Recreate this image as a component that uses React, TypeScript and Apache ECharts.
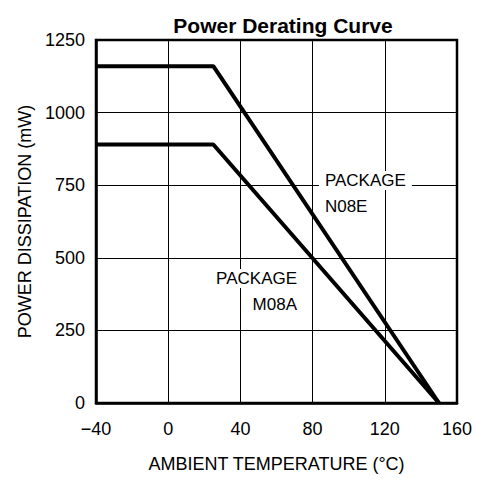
import React, { useEffect, useRef } from "react";
import * as echarts from "echarts";

const temperatures = [-40, 25, 150];
const powerN08E = [1160, 1160, 0];
const powerM08A = [890, 890, 0];
const xMin = -40;
const xMax = 160;
const xStep = 40;
const yMin = 0;
const yMax = 1250;
const yStep = 250;
const noteN08E = { x: 83.5, y: 721, title: "PACKAGE", name: "N08E" };
const noteM08A = { x: 74.7, y: 384, title: "PACKAGE", name: "M08A" };

const FONT = "Liberation Sans, Arial, sans-serif";

export default function App() {
  const ref = useRef<HTMLDivElement>(null);
  useEffect(() => {
    if (!ref.current) return;
    const chart = echarts.init(ref.current, null, { renderer: "svg" });
    const richLabel = (align: string) => ({
      a: { fontFamily: FONT, fontSize: 17, color: "#000", backgroundColor: "#fff", padding: [1, 6], lineHeight: 26, align },
      b: { fontFamily: FONT, fontSize: 17, color: "#000", padding: [1, 6], lineHeight: 26, align },
    });
    const noteSeries = (note: typeof noteN08E, side: "left" | "right") => {
      const align = side === "right" ? "left" : "right";
      return {
        type: "scatter",
        symbolSize: 0,
        data: [[note.x, note.y]],
        z: 4,
        silent: true,
        itemStyle: { opacity: 1, color: "#000" },
        label: {
          show: true,
          position: side,
          distance: 0,
          align,
          color: "#000",
          opacity: 1,
          formatter: `{a|${note.title}}\n{b|${note.name}}`,
          rich: richLabel(align),
        },
      };
    };
    chart.setOption({
      animation: false,
      backgroundColor: "#fff",
      title: {
        text: "Power Derating Curve",
        left: 278,
        textAlign: "center",
        top: 10,
        textStyle: { fontFamily: FONT, fontSize: 21, fontWeight: "bold", color: "#000" },
      },
      grid: {
        left: 96,
        right: 20,
        top: 40,
        bottom: 76,
        show: true,
        borderColor: "#000",
        borderWidth: 2.5,
        backgroundColor: "transparent",
      },
      xAxis: {
        type: "value",
        min: xMin,
        max: xMax,
        interval: xStep,
        name: "AMBIENT TEMPERATURE (°C)",
        nameLocation: "middle",
        nameGap: 52,
        nameTextStyle: { fontFamily: FONT, fontSize: 18, color: "#000" },
        axisLine: { show: true, onZero: false, lineStyle: { color: "#000", width: 2.5 } },
        axisTick: { show: false },
        axisLabel: {
          fontFamily: FONT,
          fontSize: 18,
          color: "#000",
          margin: 17,
          formatter: (v: number) => String(v).replace("-", "\u2212"),
        },
        splitLine: { show: true, lineStyle: { color: "#000", width: 1 } },
      },
      yAxis: {
        type: "value",
        min: yMin,
        max: yMax,
        interval: yStep,
        name: "POWER DISSIPATION (mW)",
        nameLocation: "middle",
        nameGap: 57,
        nameTextStyle: { fontFamily: FONT, fontSize: 18, color: "#000" },
        axisLine: { show: true, onZero: false, lineStyle: { color: "#000", width: 2.5 } },
        axisTick: { show: false },
        axisLabel: {
          fontFamily: FONT,
          fontSize: 18,
          color: "#000",
          margin: 11,
          formatter: (v: number) => String(v),
        },
        splitLine: { show: true, lineStyle: { color: "#000", width: 1 } },
      },
      series: [
        {
          type: "line",
          name: "N08E",
          data: temperatures.map((t, i) => [t, powerN08E[i]]),
          symbol: "none",
          lineStyle: { color: "#000", width: 4 },
          z: 3,
        },
        {
          type: "line",
          name: "M08A",
          data: temperatures.map((t, i) => [t, powerM08A[i]]),
          symbol: "none",
          lineStyle: { color: "#000", width: 4 },
          z: 3,
        },
        noteSeries(noteN08E, "right"),
        noteSeries(noteM08A, "left"),
      ],
    });
    return () => chart.dispose();
  }, []);
  return <div ref={ref} style={{ width: 477, height: 479, position: "absolute", left: 0, top: 0 }} />;
}
